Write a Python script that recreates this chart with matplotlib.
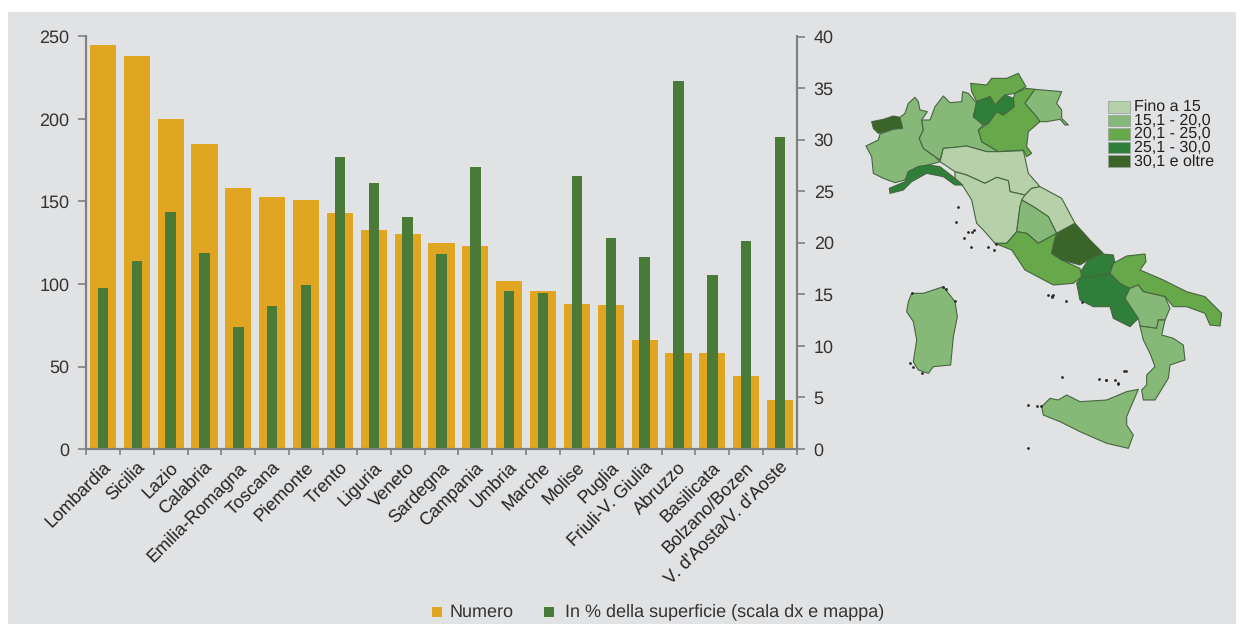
import matplotlib
matplotlib.use('Agg')
import matplotlib.pyplot as plt
from matplotlib.patches import Polygon, Rectangle
from matplotlib.transforms import ScaledTranslation

plt.rcParams['font.family'] = ['Liberation Sans', 'DejaVu Sans']
plt.rcParams['text.hinting'] = 'no_hinting'
plt.rcParams['text.hinting_factor'] = 1

W, H = 1244, 624

# dati del grafico
regioni = ['Lombardia', 'Sicilia', 'Lazio', 'Calabria', 'Emilia-Romagna', 'Toscana', 'Piemonte',
           'Trento', 'Liguria', 'Veneto', 'Sardegna', 'Campania', 'Umbria', 'Marche', 'Molise',
           'Puglia', 'Friuli-V. Giulia', 'Abruzzo', 'Basilicata', 'Bolzano/Bozen', "V. d'Aosta/V. d'Aoste"]
numero = [245, 238, 200, 185, 158, 153, 151, 143, 133, 130, 125, 123, 102, 96, 88, 87, 66, 58, 58, 44, 30]
percentuale = [15.6, 18.2, 23.0, 19.0, 11.8, 13.9, 15.9, 28.3, 25.8, 22.5, 18.9, 27.3,
               15.3, 15.1, 26.5, 20.5, 18.6, 35.7, 16.9, 20.2, 30.3]
ticks_sx = [0, 50, 100, 150, 200, 250]
ticks_dx = [0, 5, 10, 15, 20, 25, 30, 35, 40]

classi = ['Fino a 15', '15,1 - 20,0', '20,1 - 25,0', '25,1 - 30,0', '30,1 e oltre']
colori_classi = ['#b6d1aa', '#86b978', '#66a84a', '#2f7f3a', '#3b6429']

# contorni delle regioni (tracciati dalla mappa, in px x3 con origine 840,60)
contorni = {
    "Valle d'Aosta": (4, [(95,185),(130,178),(160,168),(180,172),(188,205),(160,208),(115,220),(100,205)]),
    'Piemonte': (1, [(225,112),(235,125),(240,150),(262,155),(245,180),(250,210),(238,235),(250,265),(285,290),(300,305),(265,315),(235,320),(205,335),(195,360),(165,368),(130,355),(100,340),(95,290),(78,258),(115,240),(120,222),(160,208),(188,205),(180,172),(195,160),(205,130)]),
    'Lombardia': (1, [(245,180),(270,180),(285,140),(310,108),(330,128),(365,125),(368,95),(385,100),(410,130),(400,170),(430,195),(415,210),(425,245),(475,275),(440,275),(380,258),(345,262),(310,265),(300,300),(285,290),(250,265),(238,235),(250,210)]),
    'Bolzano': (2, [(392,70),(440,75),(455,55),(500,55),(535,40),(558,80),(525,100),(495,105),(465,135),(450,110),(410,125),(395,95)]),
    'Veneto': (2, [(525,100),(558,85),(585,88),(555,130),(590,170),(600,185),(565,215),(560,260),(575,280),(560,290),(550,270),(475,275),(425,245),(415,210),(445,190),(470,155),(490,165),(522,140),(520,115)]),
    'Trento': (3, [(410,125),(450,110),(465,135),(495,105),(520,115),(522,140),(490,165),(470,155),(445,190),(430,195),(400,170)]),
    'Friuli': (1, [(585,88),(665,95),(650,130),(665,150),(665,175),(685,195),(675,195),(660,178),(620,185),(600,185),(590,170),(555,130)]),
    'Emilia-Romagna': (0, [(310,265),(345,262),(380,258),(440,275),(475,275),(550,272),(565,340),(600,380),(575,385),(555,405),(510,395),(505,362),(470,352),(435,370),(380,345),(345,335),(300,305)]),
    'Toscana': (0, [(345,335),(380,345),(435,370),(470,352),(505,362),(510,395),(555,405),(540,440),(530,515),(500,550),(465,550),(430,510),(410,490),(395,420),(370,380),(345,355)]),
    'Liguria': (3, [(150,400),(148,385),(195,365),(205,335),(235,320),(265,315),(300,320),(345,355),(368,375),(345,375),(310,350),(260,340),(215,365),(190,390)]),
    'Marche': (0, [(555,405),(575,385),(600,380),(665,415),(705,490),(650,520),(625,470),(580,440),(545,420)]),
    'Umbria': (1, [(545,420),(580,440),(625,470),(650,520),(595,550),(560,520),(530,515),(540,440)]),
    'Lazio': (2, [(465,550),(500,550),(530,515),(560,520),(595,550),(650,520),(640,555),(635,580),(665,600),(720,625),(725,650),(700,670),(640,675),(555,630),(515,570)]),
    'Abruzzo': (4, [(650,520),(705,490),(750,540),(790,580),(785,582),(745,600),(720,615),(665,600),(635,580),(640,555)]),
    'Molise': (3, [(745,600),(785,582),(820,585),(825,610),(810,640),(760,650),(725,650),(725,630)]),
    'Campania': (3, [(725,650),(760,650),(810,640),(840,670),(870,685),(855,715),(895,775),(870,800),(820,775),(810,740),(760,740),(720,720),(710,670)]),
    'Puglia': (2, [(820,610),(860,588),(915,582),(918,605),(900,630),(970,660),(1040,695),(1095,710),(1145,760),(1140,798),(1110,795),(1095,760),(1040,740),(1000,740),(975,710),(910,695),(895,675),(870,685),(840,670),(810,640)]),
    'Basilicata': (1, [(870,685),(895,675),(910,695),(975,710),(990,745),(975,780),(955,780),(950,805),(900,798),(895,775),(855,715)]),
    'Calabria': (1, [(900,798),(950,805),(955,780),(975,780),(965,825),(1000,835),(1030,855),(1035,900),(990,915),(985,955),(945,1020),(910,1020),(905,990),(920,975),(920,945),(945,920),(930,880),(910,840)]),
    'Sicilia': (1, [(605,1040),(630,1015),(655,1020),(680,1005),(720,1025),(800,1020),(860,995),(895,988),(860,1070),(860,1095),(880,1125),(865,1165),(800,1150),(720,1115),(660,1085),(610,1065)]),
    'Sardegna': (1, [(205,725),(215,700),(250,700),(310,680),(345,725),(352,770),(340,830),(332,915),(280,920),(265,940),(235,930),(220,905),(230,840),(220,785),(200,755)]),
}
# isole minori (stesso riferimento)
isole_x = [354, 348, 372, 392, 445, 462, 468, 385, 395, 403, 635, 640, 678, 625, 635, 725, 667, 797, 857, 853, 778, 798, 825, 835, 833, 565, 590, 603, 563, 310, 318, 345, 215, 210, 220, 245]
isole_y = [442, 487, 533, 562, 560, 570, 552, 515, 515, 510, 710, 705, 722, 705, 708, 725, 950, 960, 932, 932, 958, 960, 960, 970, 972, 1035, 1037, 1037, 1165, 680, 686, 722, 700, 910, 920, 938]


def a_px(punti):
    return [(840 + x / 3, 60 + y / 3) for x, y in punti]


fig = plt.figure(figsize=(W / 100, H / 100), dpi=100, facecolor='white')
fig.patches.append(Rectangle((8 / W, 0), 1228 / W, 612 / H, transform=fig.transFigure,
                             facecolor='#e1e2e4', edgecolor='none', zorder=-5))

# grafico a barre
x0, x1, y0, y1 = 86, 797, 449, 36.5
ax = fig.add_axes([x0 / W, 1 - y0 / H, (x1 - x0) / W, (y0 - y1) / H])
ax.patch.set_alpha(0)
ax2 = ax.twinx()
ax2.patch.set_alpha(0)

pos = list(range(len(regioni)))
ax.bar(pos, numero, width=0.77, color='#e0a622', label='Numero')
ax2.bar(pos, percentuale, width=0.31, color='#4a7a37', label='In % della superficie (scala dx e mappa)')

ax.set_xlim(-0.5, len(regioni) - 0.5)
ax.set_ylim(0, 250)
ax2.set_ylim(0, 40)
ax.set_yticks(ticks_sx)
ax2.set_yticks(ticks_dx)

ax.set_xticks([p - 0.5 for p in pos] + [len(regioni) - 0.5])
ax.set_xticklabels([''] * (len(regioni) + 1))
ax.set_xticks(pos, minor=True)
ax.set_xticklabels(regioni, minor=True, rotation=45, ha='right', rotation_mode='anchor',
                   fontsize=12.9, color='#222222')
ax.tick_params(axis='x', which='minor', length=0, pad=7)
for lab in ax.get_xticklabels(minor=True):
    lab.set_transform(lab.get_transform() + ScaledTranslation(-1 / 100, 0, fig.dpi_scale_trans))

for a in (ax, ax2):
    a.spines['top'].set_visible(False)
    for s in a.spines.values():
        s.set_color('#7f8082')
        s.set_linewidth(1.5)
    a.tick_params(axis='y', labelsize=13, labelcolor='#333333', color='#7f8082', width=1.2, length=5.5, pad=6.5)
ax.tick_params(axis='x', which='major', color='#7f8082', width=1.2, length=4.5)

# mappa
mp = fig.add_axes([0, 0, 1, 1])
mp.set_xlim(0, W)
mp.set_ylim(H, 0)
mp.axis('off')
for nome, (classe, punti) in contorni.items():
    mp.add_patch(Polygon(a_px(punti), closed=True, facecolor=colori_classi[classe],
                         edgecolor='#46663f', linewidth=0.8, joinstyle='round'))
mp.scatter([840 + x / 3 for x in isole_x], [60 + y / 3 for y in isole_y], s=4, color='#2a2a2a', linewidths=0)

# legenda della mappa
for i, (c, t) in enumerate(zip(colori_classi, classi)):
    yy = 101 + i * 13.6
    mp.add_patch(Rectangle((1107.5, yy), 22, 11.5, facecolor=c, edgecolor='#9aa59a', linewidth=0.6))
    mp.text(1134, yy + 6, t, fontsize=11.4, color='#222222', va='center', ha='left')

# legenda in basso
mp.add_patch(Rectangle((432, 607), 10, 10, facecolor='#e0a622', edgecolor='none'))
mp.text(450, 612, 'Numero', fontsize=12.9, color='#333333', va='center', ha='left')
mp.add_patch(Rectangle((544, 607), 10, 10, facecolor='#4a7a37', edgecolor='none'))
mp.text(565, 612, 'In % della superficie (scala dx e mappa)', fontsize=12.9, color='#333333', va='center', ha='left')

fig.savefig('out.png', dpi=100, facecolor='white')
